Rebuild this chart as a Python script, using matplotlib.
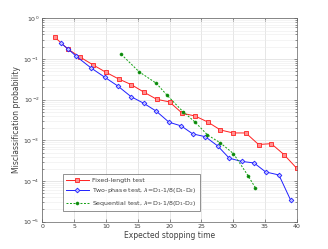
import numpy as np
import matplotlib
matplotlib.use('Agg')
import matplotlib.pyplot as plt
from matplotlib.ticker import LogLocator, NullFormatter, MultipleLocator

# Fixed-length test
fixed_t = [2, 4, 6, 8, 10, 12, 14, 16, 18, 20, 22, 24, 26, 28, 30, 32, 34, 36, 38, 40]
fixed_p = [0.34, 0.176, 0.11, 0.0713, 0.0471, 0.0323, 0.0234, 0.0152, 0.0102, 0.0088,
           0.00463, 0.00398, 0.00283, 0.0018, 0.00152, 0.00152, 0.00079, 0.00083,
           0.000446, 0.000206]

# Two-phase test
two_t = [2.94, 4.0, 5.35, 7.61, 9.83, 11.9, 13.95, 15.94, 17.92, 19.92, 21.85, 23.65,
         25.63, 27.58, 29.4, 31.35, 33.28, 35.12, 37.2, 39.05]
two_p = [0.243, 0.179, 0.116, 0.0611, 0.0355, 0.0215, 0.01186, 0.00816, 0.00521,
         0.00279, 0.00226, 0.00144, 0.00123, 0.000728, 0.000363, 0.000303, 0.000279,
         0.000167, 0.000141, 3.38e-5]

# Sequential test
seq_t = [12.42, 15.2, 17.92, 19.65, 22.12, 24.0, 25.97, 27.94, 30.06, 32.34, 33.52]
seq_p = [0.130, 0.0488, 0.0253, 0.0127, 0.00507, 0.00283, 0.00136, 0.000877,
         0.000471, 0.000136, 6.76e-5]

txt = '#404040'
fig = plt.figure(figsize=(3.28, 2.49), dpi=100)
ax = fig.add_axes([0.129, 0.1096, 0.7756, 0.8169])

ax.semilogy(fixed_t, fixed_p, color='#ff2020', marker='s', markersize=2.6,
            markerfacecolor='#ff9090', markeredgewidth=0.6, linewidth=0.7,
            label='Fixed-length test')
ax.semilogy(two_t, two_p, color='#2020ff', marker='D', markersize=2.4,
            markerfacecolor='#c0c0ff', markeredgewidth=0.6, linewidth=0.7,
            label='Two-phase test, $\\lambda$=D$_1$-1/8(D$_1$-D$_2$)')
ax.semilogy(seq_t, seq_p, color='#10a010', marker='o', markersize=2.2,
            markerfacecolor='#108010', markeredgewidth=0.4, linewidth=0.7,
            linestyle=(0, (2, 1.6)),
            label='Sequential test, $\\lambda$=D$_1$-1/8(D$_1$-D$_2$)')

ax.set_xlim(0, 40)
ax.set_ylim(1e-5, 1)
ax.xaxis.set_major_locator(MultipleLocator(5))
ax.yaxis.set_major_locator(LogLocator(base=10, numticks=10))
ax.yaxis.set_minor_locator(LogLocator(base=10, subs=np.arange(2, 10), numticks=10))
ax.yaxis.set_minor_formatter(NullFormatter())

ax.grid(True, which='major', color='#dcdcdc', linewidth=0.5)
ax.grid(True, which='minor', axis='y', color='#ececec', linewidth=0.4)
ax.set_axisbelow(True)

ax.tick_params(which='both', direction='in', top=True, right=True,
               labelsize=4.5, colors=txt, width=0.4, pad=2)
ax.tick_params(which='major', length=2.5)
ax.tick_params(which='minor', length=1.3)
for s in ax.spines.values():
    s.set_color('#606060')
    s.set_linewidth(0.5)

ax.set_xlabel('Expected stopping time', fontsize=5.5, color=txt, labelpad=1)
ax.set_ylabel('Misclassification probability', fontsize=5.5, color=txt, labelpad=2)

leg = ax.legend(loc='lower left', bbox_to_anchor=(0.081, 0.053), fontsize=4.5,
                frameon=True, fancybox=False, edgecolor='#404040',
                handlelength=3.6, borderpad=0.5, labelspacing=0.55,
                handletextpad=0.5, borderaxespad=0)
leg.get_frame().set_linewidth(0.5)
for t in leg.get_texts():
    t.set_color(txt)

fig.savefig('out.png', dpi=100, facecolor='white')
